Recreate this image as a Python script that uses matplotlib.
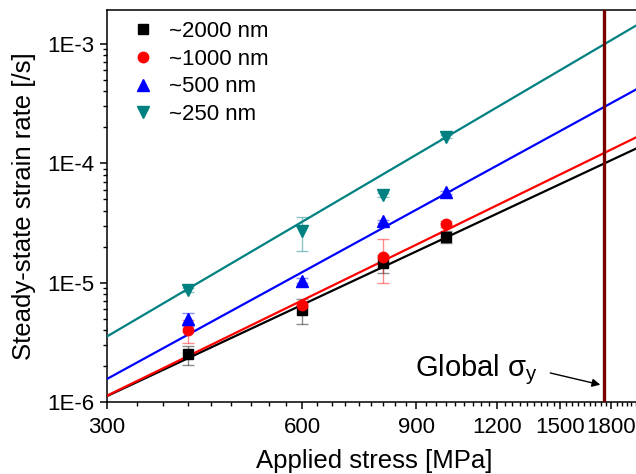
import numpy as np
import matplotlib
matplotlib.use("Agg")
import matplotlib.pyplot as plt
from matplotlib.ticker import FixedLocator, MultipleLocator, LogLocator, NullFormatter

plt.rcParams['font.family'] = ['Liberation Sans', 'DejaVu Sans']
plt.rcParams['mathtext.fontset'] = 'custom'
plt.rcParams['mathtext.rm'] = 'Liberation Sans'
plt.rcParams['mathtext.it'] = 'Liberation Sans'

# applied stress [MPa]
stress = [400, 600, 800, 1000]

# steady-state strain rates [/s] and error bars, per grain size
labels = ['~2000 nm', '~1000 nm', '~500 nm', '~250 nm']
rate_2000 = [2.5e-6, 5.9e-6, 1.45e-5, 2.43e-5]
err_2000 = [0.45e-6, 1.4e-6, 0.25e-5, 0.3e-5]
rate_1000 = [4.0e-6, 6.5e-6, 1.65e-5, 3.1e-5]
err_1000 = [0.85e-6, 0.3e-6, 0.65e-5, 0.2e-5]
rate_500 = [4.95e-6, 1.04e-5, 3.25e-5, 5.7e-5]
err_500 = [0.65e-6, 0.05e-5, 0.1e-5, 0.2e-5]
rate_250 = [8.7e-6, 2.7e-5, 5.4e-5, 1.67e-4]
err_250 = [0.3e-6, 0.85e-5, 0.2e-5, 0.05e-4]

# power-law fits: rate = prefactor * (stress/300)^n
fit_prefactor = [1.12e-6, 1.13e-6, 1.56e-6, 3.54e-6]
fit_exponent = [2.54, 2.65, 2.97, 3.19]

global_yield = 1755

colors = ['black', '#ff0000', '#0000ff', '#008080']
markers = ['s', 'o', '^', 'v']
msizes = [6.5, 7.5, 8, 8]

fig = plt.figure(figsize=(6.36, 4.74), dpi=100)
ax = fig.add_axes([107 / 636, 72 / 474, 534 / 636, 392 / 474])
ax.set_xscale('log')
ax.set_yscale('log')

xfit = np.geomspace(300, 2000, 100)
rates = [rate_2000, rate_1000, rate_500, rate_250]
errs = [err_2000, err_1000, err_500, err_250]
handles = []
for i in range(4):
    ax.plot(xfit, fit_prefactor[i] * (xfit / 300) ** fit_exponent[i],
            color=colors[i], lw=1.6, zorder=3)
    ax.errorbar(stress, rates[i], yerr=errs[i], fmt='none', ecolor=colors[i],
                alpha=0.45, elinewidth=1.0, capsize=4, capthick=1.0, zorder=2)
    h, = ax.plot(stress, rates[i], linestyle='none', marker=markers[i],
                 ms=msizes[i], color=colors[i], mec=colors[i], zorder=4,
                 label=labels[i])
    handles.append(h)

ax.axvline(global_yield, color='#7a0000', lw=2.4, zorder=5)

ax.set_xlim(300, 2000)
ax.set_ylim(1e-6, 1.92e-3)

ax.xaxis.set_major_locator(FixedLocator([300, 600, 900, 1200, 1500, 1800]))
ax.xaxis.set_minor_locator(MultipleLocator(100 / 3))
ax.set_xticklabels(['300', '600', '900', '1200', '1500', '1800'])
ax.xaxis.set_minor_formatter(NullFormatter())
ax.yaxis.set_major_locator(FixedLocator([1e-6, 1e-5, 1e-4, 1e-3]))
ax.set_yticklabels(['1E-6', '1E-5', '1E-4', '1E-3'])
ax.yaxis.set_minor_locator(LogLocator(base=10, subs=np.arange(2, 10)))
ax.yaxis.set_minor_formatter(NullFormatter())

ax.tick_params(which='major', direction='out', length=5, width=1.1, labelsize=16, pad=4)
ax.tick_params(which='minor', direction='out', length=3, width=1.0)
ax.tick_params(axis='x', which='major', pad=6)
ax.spines['right'].set_visible(False)
for s in ['left', 'bottom', 'top']:
    ax.spines[s].set_linewidth(1.1)

ax.set_xlabel('Applied stress [MPa]', fontsize=18.5, labelpad=8)
ax.set_ylabel('Steady-state strain rate [/s]', fontsize=18.5, labelpad=8)

ax.legend(handles=handles, loc='upper left', bbox_to_anchor=(0.047, 0.972),
          frameon=False, fontsize=16, handlelength=1.0, handletextpad=0.65,
          labelspacing=0.3, borderpad=0, borderaxespad=0)

ax.text(896, 1.64e-6, r'Global $\mathrm{\sigma_y}$', fontsize=21, zorder=6)
ax.annotate('', xy=(1731, 1.395e-6), xytext=(1449, 1.75e-6),
            arrowprops=dict(arrowstyle='-|>', color='black', lw=1.0,
                            mutation_scale=12, shrinkA=0, shrinkB=0))

fig.savefig('out.png', dpi=100)
